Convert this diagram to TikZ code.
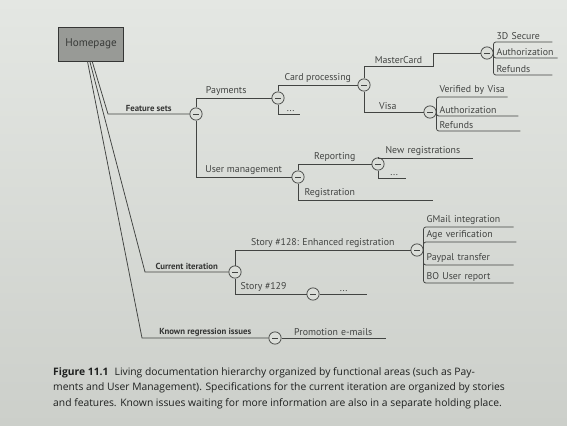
\documentclass[tikz,border=0pt]{standalone}
\usepackage{fontspec}
\newfontfamily\mapfont{PT Sans}
\newfontfamily\capfont{Open Sans}
\definecolor{paper}{RGB}{219,222,217}
\definecolor{paperhigh}{RGB}{228,231,227}
\definecolor{paperlow}{RGB}{204,207,202}
\definecolor{ink}{RGB}{66,68,66}
\definecolor{boxgray}{RGB}{152,154,150}
\definecolor{capink}{RGB}{30,32,31}
\usetikzlibrary{positioning}

\tikzset{
  homebox/.style={draw=ink!80!black, fill=boxgray, line width=0.7pt, minimum width=55.5pt, minimum height=29pt,
    text=ink!85!black, font=\mapfont\fontsize{9.5}{11}\selectfont},
  hub/.style={circle, draw=ink, fill=paper, line width=0.6pt, minimum size=10.5pt, inner sep=0pt,
    path picture={\draw[ink, line width=0.7pt] ([xshift=-2.4pt]path picture bounding box.center) -- ([xshift=2.4pt]path picture bounding box.center);}},
  topic/.style={above, inner sep=1.5pt, text=ink!80!black, font=\mapfont\bfseries\fontsize{7.5}{8}\selectfont},
  branchtext/.style={above, inner sep=1.5pt, text=ink, font=\mapfont\fontsize{8.4}{9}\selectfont},
  twig/.style={anchor=south west, inner xsep=2pt, inner ysep=1.5pt, text width=#1, text=ink,
    font=\mapfont\fontsize{8.4}{9}\selectfont},
  wire/.style={draw=ink, line width=0.65pt}
}

\begin{document}
\begin{tikzpicture}[x=0.03cm, y=-0.03cm]
  \shade[top color=paperhigh, bottom color=paperlow] (0,0) rectangle (567,426);

  \node[homebox] (home) at (91,44) {Homepage};

  % junctions
  \node[hub] (fs) at (196,114) {};
  \node[hub] (pay) at (278,98) {};
  \node[hub] (card) at (364,85) {};
  \node[hub] (mc) at (487,53) {};
  \node[hub] (visa) at (430,112) {};
  \node[hub] (um) at (298,177) {};
  \node[hub] (rep) at (378,164) {};
  \node[hub] (ci) at (235,272) {};
  \node[hub] (s128) at (417,250) {};
  \node[hub] (s129) at (313,294) {};
  \node[hub] (kri) at (275,338) {};

  % leaves
  \node[twig=45.5pt] (mc1) at (494,42) {3D Secure};
  \node[twig=49.8pt] (mc2) at (494,58) {Authorization};
  \node[twig=45.5pt] (mc3) at (494,75) {Refunds};
  \node[twig=55.8pt] (v1) at (437,97) {Verified by Visa};
  \node[twig=65.1pt] (v2) at (437,116) {Authorization};
  \node[twig=66.8pt] (v3) at (437,131) {Refunds};
  \node[twig=12.2pt, align=center] (pdots) at (281,114) {...};
  \node[twig=72.8pt] (rep1) at (383,158) {New registrations};
  \node[twig=14.8pt, align=center] (rdots) at (383,178) {...};
  \node[twig=107.8pt] (reg) at (302,200) {Registration};
  \node[twig=72pt] (st1) at (424,227) {GMail integration};
  \node[twig=74.5pt] (st2) at (424,242) {Age verification};
  \node[twig=72pt] (st3) at (424,265) {Paypal transfer};
  \node[twig=72pt] (st4) at (424,283) {BO User report};
  \node[twig=36pt, align=center] (sdots) at (320,294) {...};
  \node[twig=84.8pt, align=center] (pe) at (281,338) {Promotion e-mails};

  % main areas
  \draw[wire] ([xshift=1pt]home.south) -- (108,114) -- node[topic] (fsl) {Feature sets} (fs);
  \draw[wire] ([xshift=-1pt]home.south) -- (145,272) -- node[topic] (cil) {Current iteration} (ci);
  \draw[wire] ([xshift=-3pt]home.south) -- (142,338) -- node[topic] (kril) {Known regression issues} (kri);

  % feature sets
  \draw[wire] (fs) |- node[branchtext, pos=0.7] (payl) {Payments} (pay);
  \draw[wire] (fs) |- node[branchtext, pos=0.75] (uml) {User management} (um);
  \draw[wire] (pay) |- node[branchtext, pos=0.75] (cardl) {Card processing} (card);
  \draw[wire] (pay) |- (pdots.south east);
  \draw[wire] (card) |- node[branchtext, pos=0.75] (mcl) {MasterCard} (433,66) |- (mc);
  \draw[wire] (card) |- node[branchtext, pos=0.7] (visal) {Visa} (visa);
  \draw[wire, rounded corners=2pt] (mc.east) |- (mc1.south east);
  \draw[wire, rounded corners=2pt] (mc.east) |- (mc2.south east);
  \draw[wire, rounded corners=2pt] (mc.east) |- (mc3.south east);
  \draw[wire, rounded corners=2pt] (visa.east) |- (v1.south east);
  \draw[wire, rounded corners=2pt] (visa.east) |- (v2.south east);
  \draw[wire, rounded corners=2pt] (visa.east) |- (v3.south east);
  \draw[wire] (um) |- node[branchtext, pos=0.75] (repl) {Reporting} (rep);
  \draw[wire] (um) |- (reg.south east);
  \draw[wire] (rep) |- (rep1.south east);
  \draw[wire] (rep) |- (rdots.south east);

  % current iteration
  \draw[wire] (ci) |- node[branchtext, pos=0.75] (s128l) {Story \#128: Enhanced registration} (s128);
  \draw[wire] (ci) |- node[branchtext, pos=0.7] (s129l) {Story \#129} (s129);
  \draw[wire, rounded corners=2pt] (s128.east) |- (st1.south east);
  \draw[wire, rounded corners=2pt] (s128.east) |- (st2.south east);
  \draw[wire, rounded corners=2pt] (s128.east) |- (st3.south east);
  \draw[wire, rounded corners=2pt] (s128.east) |- (st4.south east);
  \draw[wire] (s129) -- (sdots.south east);

  % regression issues
  \draw[wire] (kri) -- (pe.south east);

  \node[anchor=north west, inner sep=0pt, align=left, text=capink,
    font=\capfont\fontsize{8.8}{13.2}\selectfont] (caption) at (53,367)
    {\textbf{Figure 11.1}\hspace{0.6em}Living documentation hierarchy organized by functional areas (such as Pay-\\
     ments and User Management). Specifications for the current iteration are organized by stories\\
     and features. Known issues waiting for more information are also in a separate holding place.};
\end{tikzpicture}
\end{document}
